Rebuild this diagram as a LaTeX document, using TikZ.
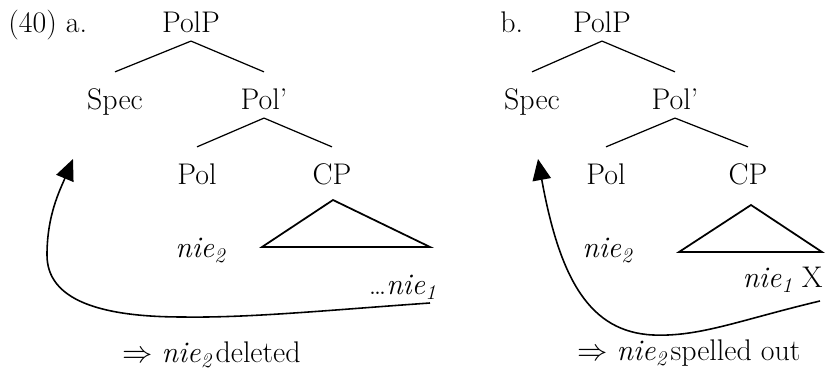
\documentclass[tikz,border=0pt]{standalone}
\usepackage{fontspec}
\usepackage{tikz}
\usetikzlibrary{arrows.meta}
\tikzset{
    cat/.style={anchor=base, text height=20pt, text depth=2.9pt, inner ysep=1.5pt, inner xsep=0pt, font=\fontsize{17}{20}\selectfont},
    word/.style={inner sep=0pt, font=\fontsize{17}{20}\selectfont},
    branch/.style={line width=0.7pt},
    roof/.style={line width=1pt, line join=miter},
    move/.style={line width=0.9pt, -{Triangle[length=12pt, width=10.5pt]}},
}
\newcommand{\nie}[1]{\textit{nie}\textsubscript{\textit{#1}}}
\begin{document}
\begin{tikzpicture}[x=0.02cm, y=-0.02cm]
\useasboundingbox (0,0) rectangle (825,381);

% Tree (a)
\node[word, anchor=base west] (exA) at (8,33) {(40) a.};
\node[cat] (polpA) at (191,33) {PolP};
\node[cat] (specA) at (115,110) {Spec};
\node[cat] (polbarA) at (264,110) {Pol'};
\node[cat] (polA) at (197,185) {Pol};
\node[cat] (cpA) at (332,185) {CP};
\node[word, anchor=base west] (nieTwoA) at (175,258) {\nie{2}};
\node[word, anchor=base east] (nieOneA) at (437,295) {\ldots\nie{1}};
\node[word, anchor=base west] (resA) at (122,363) {$\Rightarrow$ \nie{2}\kern1.5pt deleted};

\draw[branch] (polpA.south) -- (specA.north);
\draw[branch] (polpA.south) -- (polbarA.north);
\draw[branch] (polbarA.south) -- (polA.north);
\draw[branch] (polbarA.south) -- (cpA.north);

\coordinate (roofTopA) at (333,200);
\coordinate (roofLeftA) at (262,247);
\coordinate (roofRightA) at (430,247);
\draw[roof] (roofTopA) -- (roofLeftA) -- (roofRightA) -- cycle;

\coordinate (fromA) at (430,303);
\coordinate (toA) at (73,159);
\draw[move] (fromA) .. controls (330,310) and (250,318) .. (183,317)
  .. controls (100,317) and (47,300) .. (47,255)
  .. controls (47,215) and (60,190) .. (toA);

% Tree (b)
\node[word, anchor=base west] (exB) at (500,33) {b.};
\node[cat] (polpB) at (602,33) {PolP};
\node[cat] (specB) at (532,110) {Spec};
\node[cat] (polbarB) at (675,110) {Pol'};
\node[cat] (polB) at (606,185) {Pol};
\node[cat] (cpB) at (748,185) {CP};
\node[word, anchor=base west] (nieTwoB) at (582,258) {\nie{2}};
\node[word, anchor=base east] (nieOneB) at (823,288) {\nie{1} X};
\node[word, anchor=base west] (resB) at (577,361) {$\Rightarrow$ \nie{2}\kern1.5pt spelled out};

\draw[branch] (polpB.south) -- (specB.north);
\draw[branch] (polpB.south) -- (polbarB.north);
\draw[branch] (polbarB.south) -- (polB.north);
\draw[branch] (polbarB.south) -- (cpB.north);

\coordinate (roofTopB) at (751,205);
\coordinate (roofLeftB) at (679,252);
\coordinate (roofRightB) at (822,252);
\draw[roof] (roofTopB) -- (roofLeftB) -- (roofRightB) -- cycle;

\coordinate (fromB) at (820,301);
\coordinate (toB) at (538,159);
\draw[move] (fromB) .. controls (740,320) and (700,337) .. (653,335)
  .. controls (590,332) and (560,280) .. (toB);

\end{tikzpicture}
\end{document}
